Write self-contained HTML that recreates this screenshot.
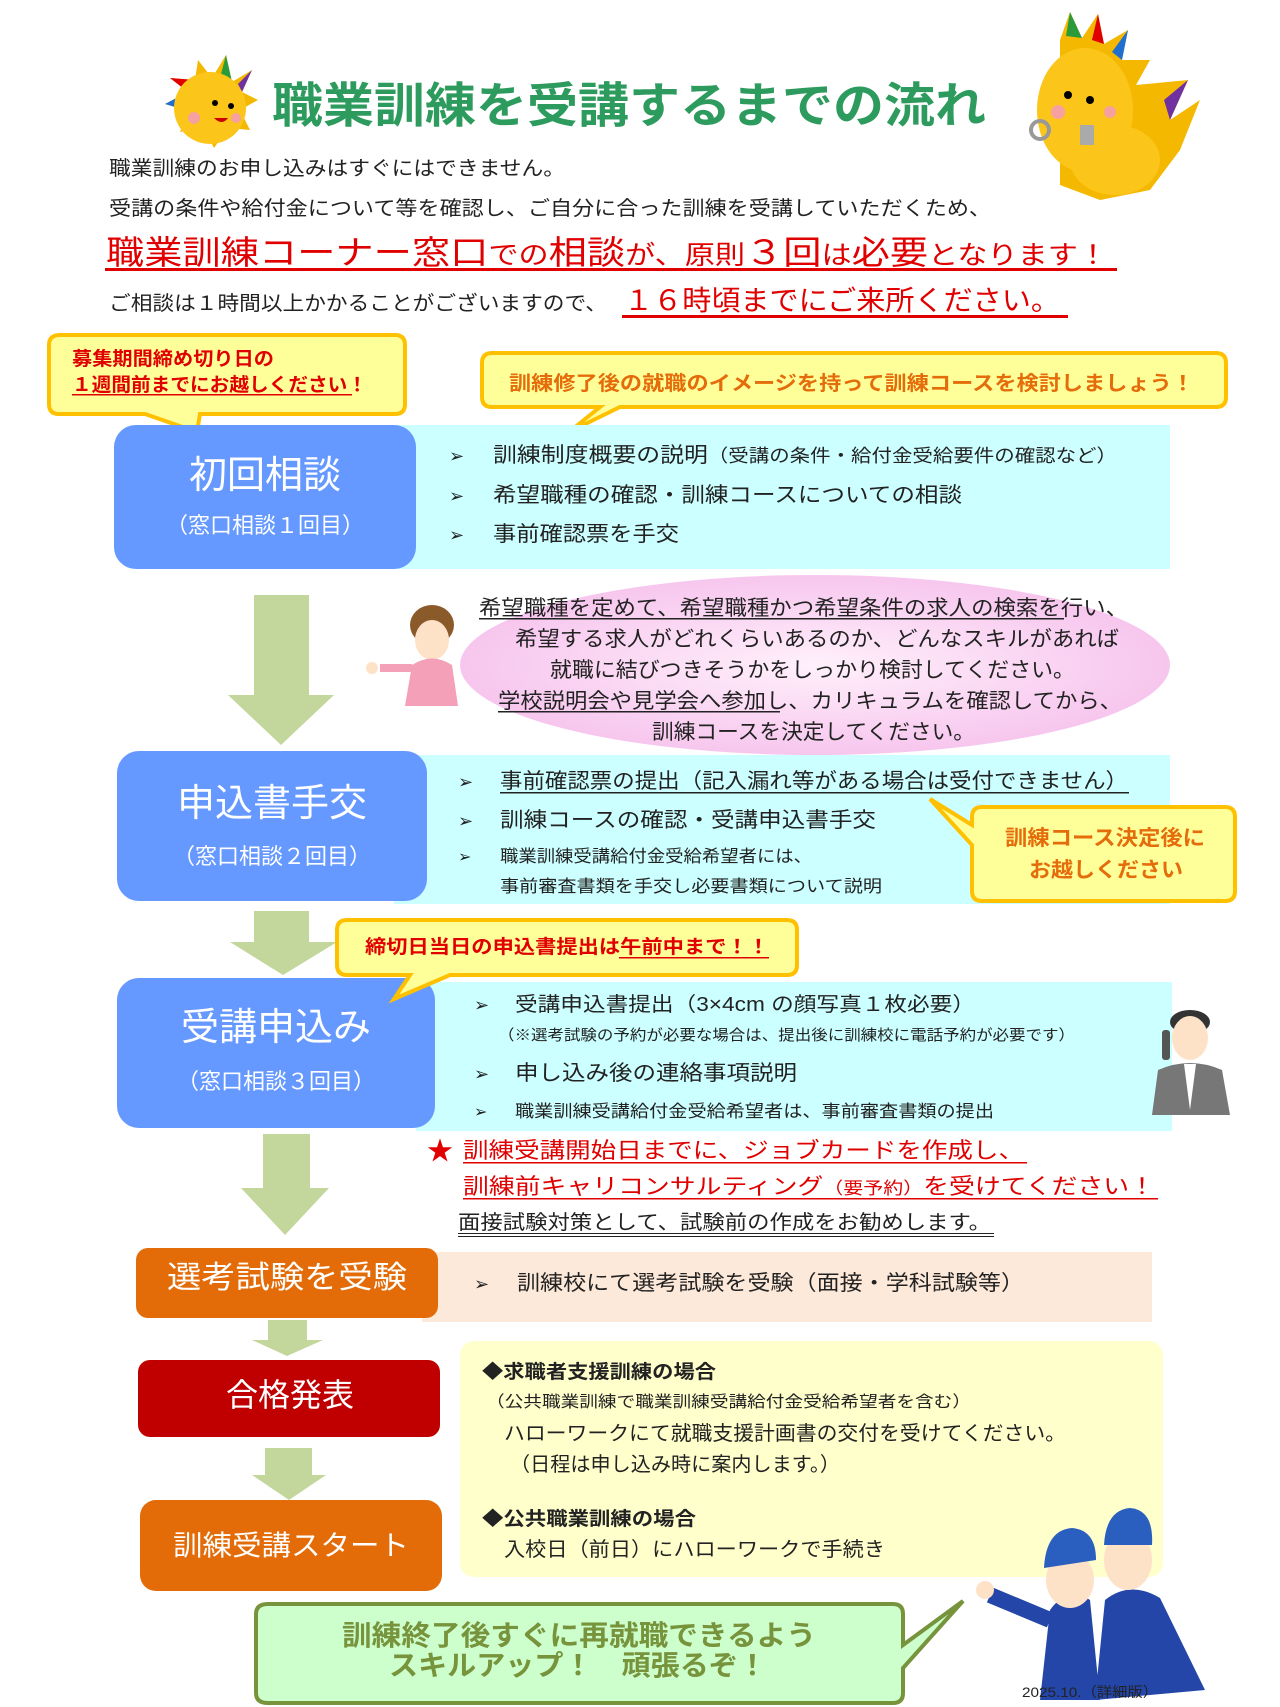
<!DOCTYPE html>
<html><head><meta charset="utf-8"><style>
html,body{margin:0;padding:0;background:#fff}
svg{display:block}
text{font-family:"Liberation Sans","Noto Sans CJK JP",sans-serif}
.b{font-weight:bold}
</style></head><body>
<svg width="1280" height="1707" viewBox="0 0 1280 1707" xmlns="http://www.w3.org/2000/svg">
<defs>
<radialGradient id="pk" cx="50%" cy="50%" r="50%"><stop offset="0" stop-color="#fff0fb"/><stop offset="1" stop-color="#f7c6ee"/></radialGradient>
</defs>
<!-- sun mascot left -->
<g>
<polygon points="198,60 212,78 226,55 232,82 252,70 242,92 258,100 240,110 250,130 228,128 214,148 204,128 180,132 190,112 165,104 188,92 170,78 195,80" fill="#f5b800"/>
<polygon points="226,55 232,82 220,78" fill="#2a9a3a"/><polygon points="252,70 242,92 238,84" fill="#7030a0"/><polygon points="170,78 195,80 188,92" fill="#e00000"/><polygon points="165,104 188,92 186,110" fill="#1f6fd0"/>
<circle cx="210" cy="108" r="36" fill="#fbc51a"/>
<circle cx="215" cy="103" r="3" fill="#000"/><circle cx="231" cy="106" r="3" fill="#000"/>
<circle cx="194" cy="118" r="6" fill="#f7a0a0"/><circle cx="236" cy="118" r="5" fill="#f7a0a0"/>
<path d="M214,118 q8,8 14,0" fill="#c00" />
</g>
<!-- right mascot -->
<g>
<polygon points="1060,40 1070,12 1082,38 1098,14 1104,44 1128,30 1122,60 1150,60 1136,85 1188,80 1170,120 1200,100 1180,150 1150,190 1100,200 1060,185" fill="#f5b800"/>
<polygon points="1070,12 1082,38 1066,36" fill="#2a9a3a"/><polygon points="1098,14 1104,44 1092,40" fill="#e00000"/><polygon points="1128,30 1122,60 1112,52" fill="#1f6fd0"/><polygon points="1188,80 1170,120 1164,100" fill="#7030a0"/>
<ellipse cx="1085" cy="110" rx="48" ry="62" fill="#fbc51a"/>
<ellipse cx="1115" cy="160" rx="45" ry="35" fill="#fbc51a"/>
<circle cx="1068" cy="95" r="4" fill="#000"/><circle cx="1090" cy="100" r="4" fill="#000"/>
<circle cx="1058" cy="112" r="7" fill="#f7a0a0"/><circle cx="1110" cy="112" r="6" fill="#f7a0a0"/>
<circle cx="1040" cy="130" r="9" fill="none" stroke="#999" stroke-width="4"/>
<rect x="1080" y="125" width="14" height="20" fill="#aaa"/>
</g>
<!-- title -->
<text x="272" y="122" font-size="48" class="b" fill="#2e9b5e" textLength="714" lengthAdjust="spacingAndGlyphs">職業訓練を受講するまでの流れ</text>
<text x="109" y="175" font-size="20" fill="#222" textLength="456" lengthAdjust="spacingAndGlyphs">職業訓練のお申し込みはすぐにはできません。</text>
<text x="109" y="215" font-size="20" fill="#222" textLength="882" lengthAdjust="spacingAndGlyphs">受講の条件や給付金について等を確認し、ご自分に合った訓練を受講していただくため、</text>
<text x="106" y="264" font-size="33" fill="#e00000" textLength="1002" lengthAdjust="spacingAndGlyphs">職業訓練コーナー窓口<tspan font-size="26">での</tspan>相談<tspan font-size="26">が、原則</tspan>３回<tspan font-size="26">は</tspan>必要<tspan font-size="26">となります！</tspan></text>
<rect x="105" y="268" width="1012" height="3" fill="#e00000"/>
<text x="109" y="310" font-size="20" fill="#222" textLength="498" lengthAdjust="spacingAndGlyphs">ご相談は１時間以上かかることがございますので、</text>
<text x="624" y="310" font-size="28" fill="#e00000" textLength="436" lengthAdjust="spacingAndGlyphs">１６時頃までにご来所ください。</text>
<rect x="622" y="315" width="446" height="3" fill="#e00000"/>

<!-- callout 1 -->
<path d="M60,335 H395 Q405,335 405,345 V404 Q405,414 395,414 H200 L197,432 L145,414 H59 Q49,414 49,404 V345 Q49,335 60,335 Z" fill="#ffff99" stroke="#ffc000" stroke-width="4"/>
<text x="72" y="365" font-size="19" class="b" fill="#e00000" textLength="202" lengthAdjust="spacingAndGlyphs">募集期間締め切り日の</text>
<text x="72" y="391" font-size="19" class="b" fill="#e00000" textLength="295" lengthAdjust="spacingAndGlyphs">１週間前までにお越しください！</text>
<rect x="72" y="394" width="280" height="1.5" fill="#e00000"/>
<!-- callout 2 -->
<path d="M492,353 H1216 Q1226,353 1226,363 V397 Q1226,407 1216,407 H620 L569,432 L600,407 H492 Q482,407 482,397 V363 Q482,353 492,353 Z" fill="#ffff99" stroke="#ffc000" stroke-width="4"/>
<text x="509" y="390" font-size="20" class="b" fill="#e46c0a" textLength="685" lengthAdjust="spacingAndGlyphs">訓練修了後の就職のイメージを持って訓練コースを検討しましょう！</text>

<!-- box 1 -->
<rect x="394" y="425" width="776" height="144" fill="#ccffff"/>
<rect x="114" y="425" width="302" height="144" rx="22" fill="#6699ff"/>
<text x="265" y="488" font-size="38" fill="#fff" text-anchor="middle">初回相談</text>
<text x="265" y="533" font-size="22" fill="#fff" text-anchor="middle">（窓口相談１回目）</text>
<g font-size="21" fill="#222">
<text x="449" y="462" font-size="18">➢</text><text x="493" y="462" textLength="624" lengthAdjust="spacingAndGlyphs">訓練制度概要の説明<tspan font-size="18">（受講の条件・給付金受給要件の確認など）</tspan></text>
<text x="449" y="502" font-size="18">➢</text><text x="493" y="502" textLength="469" lengthAdjust="spacingAndGlyphs">希望職種の確認・訓練コースについての相談</text>
<text x="449" y="541" font-size="18">➢</text><text x="493" y="541" textLength="186" lengthAdjust="spacingAndGlyphs">事前確認票を手交</text>
</g>

<!-- arrow 1 -->
<polygon points="254,595 309,595 309,695 334,695 281,745 228,695 254,695" fill="#c3d69b"/>
<!-- pink ellipse -->
<ellipse cx="815" cy="665" rx="355" ry="90" fill="url(#pk)"/>
<!-- woman -->
<g>
<ellipse cx="432" cy="625" rx="22" ry="20" fill="#8a5a2b"/>
<ellipse cx="432" cy="640" rx="17" ry="20" fill="#fde2c8"/>
<path d="M405,706 L412,665 Q432,652 452,665 L458,706 Z" fill="#f3a0b8"/>
<path d="M412,668 L380,668" stroke="#f3a0b8" stroke-width="8"/>
<circle cx="372" cy="668" r="6" fill="#fde2c8"/>
</g>
<g font-size="21" fill="#222">
<text x="479" y="615" textLength="649" lengthAdjust="spacingAndGlyphs">希望職種を定めて、希望職種かつ希望条件の求人の検索を行い、</text>
<rect x="479" y="618" width="585" height="1.5" fill="#222"/>
<text x="515" y="646" textLength="604" lengthAdjust="spacingAndGlyphs">希望する求人がどれくらいあるのか、どんなスキルがあれば</text>
<text x="550" y="677" textLength="525" lengthAdjust="spacingAndGlyphs">就職に結びつきそうかをしっかり検討してください。</text>
<text x="498" y="708" textLength="624" lengthAdjust="spacingAndGlyphs">学校説明会や見学会へ参加し、カリキュラムを確認してから、</text>
<rect x="498" y="711" width="282" height="1.5" fill="#222"/>
<text x="652" y="739" textLength="323" lengthAdjust="spacingAndGlyphs">訓練コースを決定してください。</text>
</g>

<!-- box 2 -->
<rect x="394" y="755" width="776" height="149" fill="#ccffff"/>
<rect x="117" y="751" width="310" height="150" rx="22" fill="#6699ff"/>
<text x="272" y="816" font-size="38" fill="#fff" text-anchor="middle">申込書手交</text>
<text x="272" y="864" font-size="22" fill="#fff" text-anchor="middle">（窓口相談２回目）</text>
<g fill="#222">
<text x="458" y="788" font-size="18">➢</text><text x="500" y="788" font-size="21" textLength="628" lengthAdjust="spacingAndGlyphs">事前確認票の提出（記入漏れ等がある場合は受付できません）</text>
<rect x="500" y="792" width="629" height="1.5" fill="#222"/>
<text x="458" y="827" font-size="18">➢</text><text x="500" y="827" font-size="21" textLength="376" lengthAdjust="spacingAndGlyphs">訓練コースの確認・受講申込書手交</text>
<text x="458" y="862" font-size="16">➢</text><text x="500" y="862" font-size="17" textLength="312" lengthAdjust="spacingAndGlyphs">職業訓練受講給付金受給希望者には、</text>
<text x="500" y="892" font-size="17" textLength="382" lengthAdjust="spacingAndGlyphs">事前審査書類を手交し必要書類について説明</text>
</g>
<!-- callout 3 -->
<path d="M982,807 H1225 Q1235,807 1235,817 V891 Q1235,901 1225,901 H982 Q972,901 972,891 V845 L930,799 L972,825 V817 Q972,807 982,807 Z" fill="#ffff99" stroke="#ffc000" stroke-width="4"/>
<text x="1005" y="845" font-size="21" class="b" fill="#e46c0a" textLength="200" lengthAdjust="spacingAndGlyphs">訓練コース決定後に</text>
<text x="1029" y="877" font-size="21" class="b" fill="#e46c0a" textLength="154" lengthAdjust="spacingAndGlyphs">お越しください</text>

<!-- arrow 2 -->
<polygon points="254,911 309,911 309,942 337,942 283,975 230,942 254,942" fill="#c3d69b"/>

<!-- box 3 -->
<rect x="416" y="982" width="756" height="149" fill="#ccffff"/>
<rect x="117" y="978" width="318" height="150" rx="22" fill="#6699ff"/>
<!-- callout 4 -->
<path d="M347,920 H787 Q797,920 797,930 V965 Q797,975 787,975 H450 L394,999 L410,975 H347 Q337,975 337,965 V930 Q337,920 347,920 Z" fill="#ffff99" stroke="#ffc000" stroke-width="4"/>
<text x="365" y="953" font-size="19" class="b" fill="#e00000" textLength="404" lengthAdjust="spacingAndGlyphs">締切日当日の申込書提出は午前中まで！！</text>
<rect x="619" y="957" width="150" height="1.5" fill="#e00000"/>
<text x="276" y="1040" font-size="38" fill="#fff" text-anchor="middle">受講申込み</text>
<text x="276" y="1089" font-size="22" fill="#fff" text-anchor="middle">（窓口相談３回目）</text>
<g fill="#222">
<text x="474" y="1011" font-size="18">➢</text><text x="515" y="1011" font-size="20" textLength="460" lengthAdjust="spacingAndGlyphs">受講申込書提出（3×4cm の顔写真１枚必要）</text>
<text x="498" y="1040" font-size="15" textLength="577" lengthAdjust="spacingAndGlyphs">（※選考試験の予約が必要な場合は、提出後に訓練校に電話予約が必要です）</text>
<text x="474" y="1080" font-size="18">➢</text><text x="515" y="1080" font-size="21" textLength="282" lengthAdjust="spacingAndGlyphs">申し込み後の連絡事項説明</text>
<text x="474" y="1117" font-size="16">➢</text><text x="515" y="1117" font-size="17" textLength="479" lengthAdjust="spacingAndGlyphs">職業訓練受講給付金受給希望者は、事前審査書類の提出</text>
</g>
<!-- man -->
<g>
<ellipse cx="1190" cy="1022" rx="20" ry="12" fill="#333"/>
<ellipse cx="1190" cy="1038" rx="18" ry="22" fill="#fde2c8"/>
<path d="M1152,1115 L1158,1070 Q1190,1056 1222,1070 L1230,1115 Z" fill="#777"/>
<path d="M1184,1064 L1196,1064 L1190,1110 Z" fill="#fff"/>
<rect x="1162" y="1030" width="8" height="30" rx="3" fill="#555"/>
</g>

<!-- arrow 3 -->
<polygon points="263,1134 310,1134 310,1188 329,1188 285,1235 241,1188 263,1188" fill="#c3d69b"/>
<!-- star lines -->
<text x="427" y="1160" font-size="26" fill="#e00000">★</text>
<text x="463" y="1158" font-size="22" fill="#e00000" textLength="561" lengthAdjust="spacingAndGlyphs">訓練受講開始日までに、ジョブカードを作成し、</text>
<rect x="463" y="1162" width="564" height="1.5" fill="#e00000"/>
<text x="463" y="1194" font-size="22" fill="#e00000" textLength="692" lengthAdjust="spacingAndGlyphs">訓練前キャリコンサルティング<tspan font-size="17">（要予約）</tspan>を受けてください！</text>
<rect x="463" y="1198" width="695" height="1.5" fill="#e00000"/>
<text x="458" y="1229" font-size="20" fill="#222" textLength="533" lengthAdjust="spacingAndGlyphs">面接試験対策として、試験前の作成をお勧めします。</text>
<rect x="458" y="1233" width="536" height="1" fill="#222"/><rect x="458" y="1236" width="536" height="1" fill="#222"/>

<!-- box 4 -->
<rect x="422" y="1252" width="730" height="70" fill="#fde9d9"/>
<rect x="136" y="1248" width="302" height="70" rx="12" fill="#e36c09"/>
<text x="287" y="1288" font-size="31" fill="#fff" text-anchor="middle" textLength="240" lengthAdjust="spacingAndGlyphs">選考試験を受験</text>
<text x="474" y="1290" font-size="18" fill="#222">➢</text>
<text x="517" y="1290" font-size="21" fill="#222" textLength="507" lengthAdjust="spacingAndGlyphs">訓練校にて選考試験を受験（面接・学科試験等）</text>
<!-- small arrow -->
<polygon points="268,1320 307,1320 307,1340 323,1340 287,1356 252,1340 268,1340" fill="#c3d69b"/>

<!-- yellow panel -->
<rect x="460" y="1341" width="703" height="236" rx="14" fill="#ffffcc"/>
<g fill="#222">
<text x="482" y="1378" font-size="19" class="b" textLength="234" lengthAdjust="spacingAndGlyphs">◆求職者支援訓練の場合</text>
<text x="486" y="1407" font-size="16" textLength="485" lengthAdjust="spacingAndGlyphs">（公共職業訓練で職業訓練受講給付金受給希望者を含む）</text>
<text x="504" y="1440" font-size="20" textLength="562" lengthAdjust="spacingAndGlyphs">ハローワークにて就職支援計画書の交付を受けてください。</text>
<text x="510" y="1471" font-size="20" textLength="330" lengthAdjust="spacingAndGlyphs">（日程は申し込み時に案内します。）</text>
<text x="482" y="1525" font-size="19" class="b" textLength="214" lengthAdjust="spacingAndGlyphs">◆公共職業訓練の場合</text>
<text x="504" y="1556" font-size="20" textLength="381" lengthAdjust="spacingAndGlyphs">入校日（前日）にハローワークで手続き</text>
</g>

<!-- box 5 -->
<rect x="138" y="1360" width="302" height="77" rx="12" fill="#c00000"/>
<text x="290" y="1406" font-size="32" fill="#fff" text-anchor="middle">合格発表</text>
<!-- arrow -->
<polygon points="265,1448 312,1448 312,1475 326,1475 289,1500 252,1475 265,1475" fill="#c3d69b"/>
<!-- box 6 -->
<rect x="140" y="1500" width="302" height="91" rx="16" fill="#e36c09"/>
<text x="291" y="1555" font-size="28" fill="#fff" text-anchor="middle" textLength="236" lengthAdjust="spacingAndGlyphs">訓練受講スタート</text>

<!-- workers -->
<g>
<path d="M1040,1700 L1050,1610 Q1068,1585 1090,1600 L1100,1700 Z" fill="#2346a8"/>
<path d="M1095,1700 L1105,1600 Q1130,1580 1160,1598 L1205,1690 Z" fill="#2346a8"/>
<ellipse cx="1070" cy="1580" rx="24" ry="28" fill="#fde2c8"/>
<ellipse cx="1128" cy="1560" rx="24" ry="30" fill="#fde2c8"/>
<path d="M1044,1568 Q1046,1530 1072,1528 Q1096,1530 1096,1560 Z" fill="#2b5fbf"/>
<path d="M1104,1545 Q1106,1510 1130,1508 Q1154,1510 1152,1545 Z" fill="#2b5fbf"/>
<path d="M1050,1620 L990,1595" stroke="#2346a8" stroke-width="16"/>
<circle cx="985" cy="1590" r="9" fill="#fde2c8"/>
</g>

<!-- green callout -->
<path d="M268,1604 H893 Q903,1604 903,1614 V1645 L963,1601 L903,1668 V1693 Q903,1703 893,1703 H268 Q256,1703 256,1693 V1614 Q256,1604 268,1604 Z" fill="#ccffcc" stroke="#77933c" stroke-width="4"/>
<text x="342" y="1645" font-size="28" class="b" fill="#77933c" textLength="474" lengthAdjust="spacingAndGlyphs">訓練終了後すぐに再就職できるよう</text>
<text x="389" y="1675" font-size="28" class="b" fill="#77933c" textLength="378" lengthAdjust="spacingAndGlyphs">スキルアップ！　頑張るぞ！</text>
<text x="1022" y="1697" font-size="14" fill="#222" font-family="Liberation Serif,'Noto Serif CJK SC',serif" textLength="136" lengthAdjust="spacingAndGlyphs">2025.10.（詳細版）</text>
</svg>
</body></html>
